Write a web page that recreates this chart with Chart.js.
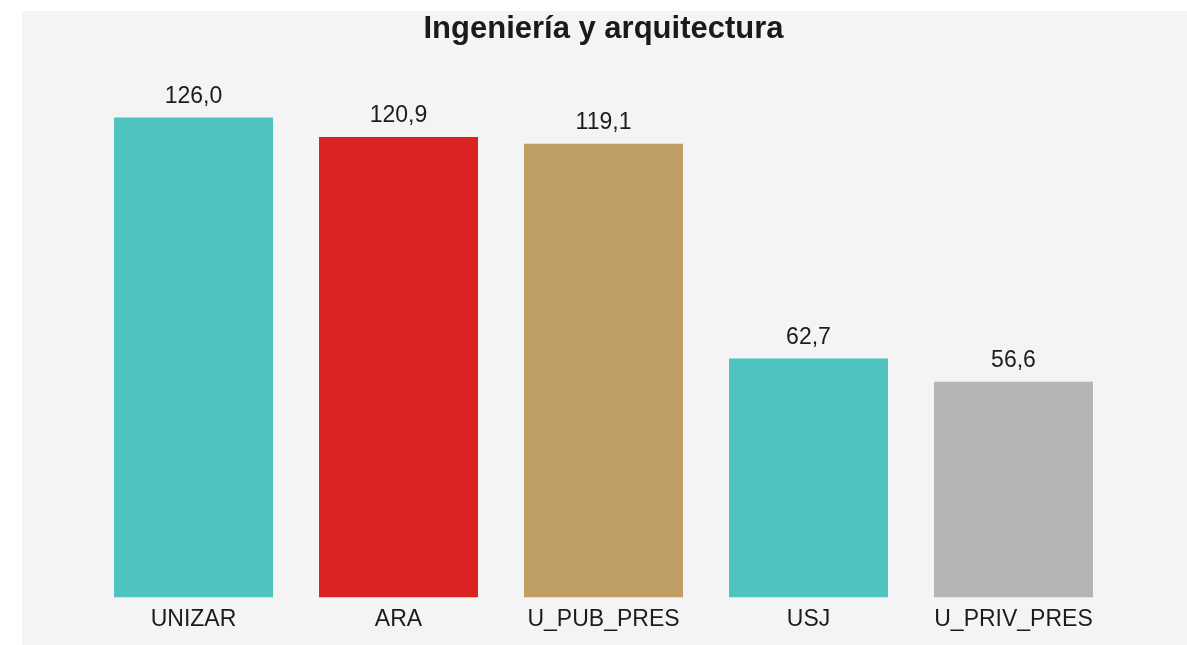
<!DOCTYPE html>
<html>
<head>
<meta charset="utf-8">
<script src="https://cdn.jsdelivr.net/npm/chart.js@4"></script>
<style>
  html, body { margin: 0; padding: 0; background: #ffffff; }
  #panel {
    position: absolute;
    left: 22px;
    top: 11px;
    width: 1165px;
    height: 634px;
    background: #f4f4f4;
  }
</style>
</head>
<body>
<div id="panel"><canvas id="myChart"></canvas></div>
<script>
const categories = ['UNIZAR', 'ARA', 'U_PUB_PRES', 'USJ', 'U_PRIV_PRES'];
const values = [126.0, 120.9, 119.1, 62.7, 56.6];
const barColors = ['#4fc3bf', '#dc2323', '#bf9e66', '#4fc3bf', '#b5b5b5'];

const FONT = "'Liberation Sans', Arial, sans-serif";

// value labels above each bar, with comma decimals
const valueLabels = {
  id: 'valueLabels',
  afterDatasetsDraw(chart) {
    const ctx = chart.ctx;
    const meta = chart.getDatasetMeta(0);
    ctx.save();
    ctx.font = '23px ' + FONT;
    ctx.fillStyle = '#1c1c1c';
    ctx.textAlign = 'center';
    ctx.textBaseline = 'alphabetic';
    meta.data.forEach(function (bar, i) {
      const txt = values[i].toFixed(1).replace('.', ',');
      ctx.fillText(txt, bar.x, bar.y - 15);
    });
    ctx.restore();
  }
};

const data = {
  labels: categories,
  datasets: [{
    data: values,
    backgroundColor: barColors,
    borderWidth: 0,
    barPercentage: 0.7756,
    categoryPercentage: 1.0
  }]
};

const config = {
  type: 'bar',
  data: data,
  options: {
    responsive: false,
    animation: false,
    devicePixelRatio: 1,
    layout: {
      padding: { left: 69, right: 71, top: 0, bottom: 4 }
    },
    plugins: {
      legend: { display: false },
      tooltip: { enabled: false },
      title: {
        display: true,
        text: 'Ingeniería y arquitectura',
        color: '#1a1a1a',
        font: { family: FONT, size: 31, weight: 'bold' },
        padding: { top: 0, bottom: 16 }
      }
    },
    scales: {
      x: {
        grid: { display: false, drawTicks: false },
        border: { display: false },
        ticks: {
          color: '#1c1c1c',
          font: { family: FONT, size: 23 },
          padding: 8,
          maxRotation: 0,
          autoSkip: false
        }
      },
      y: {
        display: false,
        min: 0,
        max: 140
      }
    }
  },
  plugins: [valueLabels]
};

const canvas = document.getElementById('myChart');
canvas.width = 1165;
canvas.height = 634;
canvas.style.width = '1165px';
canvas.style.height = '634px';

const myChart = new Chart(canvas, config);
</script>
</body>
</html>
